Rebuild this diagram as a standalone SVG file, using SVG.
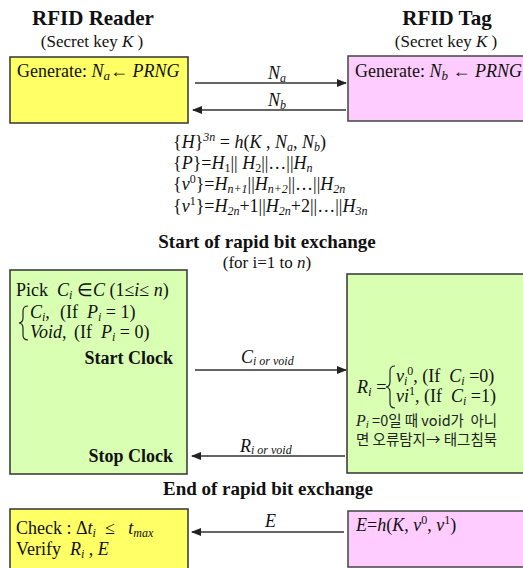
<svg xmlns="http://www.w3.org/2000/svg" width="523" height="568" viewBox="0 0 523 568" xml:space="preserve">
<style>
text{font-family:"Liberation Serif","Times New Roman",serif;fill:#111;white-space:pre;}
.h{font-weight:bold;font-size:21px;text-anchor:middle;}
.sub{font-size:17px;text-anchor:middle;}
.b{font-weight:bold;font-size:19px;text-anchor:middle;}
.t{font-size:18px;}
.f{font-size:18px;}
.i{font-style:italic;}
.bc{font-weight:bold;font-size:18px;}
.kr{font-family:"Noto Sans CJK KR","Noto Sans",sans-serif;font-size:14.5px;fill:#222;}
.yel{fill:#FFFF66;stroke:#333;stroke-width:1.5;}
.pink{fill:#FFCCFF;stroke:#444;stroke-width:1.5;}
.grn{fill:#D9FFB3;stroke:#333;stroke-width:1.5;}
.arr{stroke:#333;stroke-width:1.5;fill:none;}
.br{stroke:#222;stroke-width:1.2;fill:none;}
</style>
<defs>
<marker id="ah" markerWidth="10" markerHeight="8" refX="9" refY="4" orient="auto" markerUnits="userSpaceOnUse">
<path d="M0,0 L10,4 L0,8 Z" fill="#222"/>
</marker>
</defs>
<g id="headers">
<text class="h" x="93" y="25">RFID Reader</text>
<text class="sub" x="92" y="47">(Secret key <tspan class="i">K</tspan> )</text>
<text class="h" x="447" y="25">RFID Tag</text>
<text class="sub" x="446" y="47">(Secret key <tspan class="i">K</tspan> )</text>
</g>
<g id="reader-gen">
<rect class="yel" x="10" y="57" width="178" height="66"/>
<text class="t" x="17" y="77">Generate: <tspan class="i">N</tspan><tspan class="i" font-size="13" dy="3">a</tspan><tspan dy="-3">← </tspan><tspan class="i">PRNG</tspan></text>
</g>
<g id="tag-gen">
<rect class="pink" x="348" y="56" width="180" height="65"/>
<text class="t" x="355" y="77">Generate: <tspan class="i">N</tspan><tspan class="i" font-size="13" dy="3">b</tspan><tspan dy="-3"> ← </tspan><tspan class="i">PRNG</tspan></text>
</g>
<g id="formulas">
<text class="f" x="173" y="148">{<tspan class="i">H</tspan>}<tspan class="i" font-size="12" dy="-7">3n</tspan><tspan dy="7"> = </tspan><tspan class="i">h</tspan>(<tspan class="i">K</tspan> , <tspan class="i">N</tspan><tspan class="i" font-size="12" dy="3">a</tspan><tspan dy="-3">, </tspan><tspan class="i">N</tspan><tspan class="i" font-size="12" dy="3">b</tspan><tspan dy="-3">)</tspan></text>
<text class="f" x="173" y="169">{<tspan class="i">P</tspan>}=<tspan class="i">H</tspan><tspan font-size="12" dy="3">1</tspan><tspan dy="-3">|| </tspan><tspan class="i">H</tspan><tspan font-size="12" dy="3">2</tspan><tspan dy="-3">||…||</tspan><tspan class="i">H</tspan><tspan class="i" font-size="12" dy="3">n</tspan></text>
<text class="f" x="173" y="190">{<tspan class="i">v</tspan><tspan font-size="12" dy="-7">0</tspan><tspan dy="7">}=</tspan><tspan class="i">H</tspan><tspan class="i" font-size="12" dy="3">n+1</tspan><tspan dy="-3">||</tspan><tspan class="i">H</tspan><tspan class="i" font-size="12" dy="3">n+2</tspan><tspan dy="-3">||…||</tspan><tspan class="i">H</tspan><tspan class="i" font-size="12" dy="3">2n</tspan></text>
<text class="f" x="173" y="212">{<tspan class="i">v</tspan><tspan font-size="12" dy="-7">1</tspan><tspan dy="7">}=</tspan><tspan class="i">H</tspan><tspan class="i" font-size="12" dy="3">2n</tspan><tspan dy="-3">+1||</tspan><tspan class="i">H</tspan><tspan class="i" font-size="12" dy="3">2n</tspan><tspan dy="-3">+2||…||</tspan><tspan class="i">H</tspan><tspan class="i" font-size="12" dy="3">3n</tspan></text>
</g>
<g id="start-title">
<text class="b" x="267" y="248">Start of rapid bit exchange</text>
<text class="sub" x="267" y="268">(for i=1 to <tspan class="i">n</tspan>)</text>
</g>
<g id="reader-exchange">
<rect class="grn" x="10" y="270" width="177" height="204"/>
<text class="t" x="16" y="296">Pick  <tspan class="i">C</tspan><tspan class="i" font-size="12" dy="3">i</tspan><tspan dy="-3"> ∈</tspan><tspan class="i">C</tspan> (1≤<tspan class="i">i</tspan>≤ <tspan class="i">n</tspan>)</text>
<path class="br" d="M28,306 Q23,306 23,311 L23,318 Q23,322.5 19,323 Q23,323.5 23,328 L23,335 Q23,340 28,340"/>
<text class="t" x="30" y="318"><tspan class="i">C</tspan><tspan class="i" font-size="12" dy="3">i</tspan><tspan dy="-3">,</tspan></text>
<text class="t" x="60" y="318">(If  <tspan class="i">P</tspan><tspan class="i" font-size="12" dy="3">i</tspan><tspan dy="-3"> = 1)</tspan></text>
<text class="t" x="30" y="338"><tspan class="i">Void</tspan>,</text>
<text class="t" x="74" y="338">(If  <tspan class="i">P</tspan><tspan class="i" font-size="12" dy="3">i</tspan><tspan dy="-3"> = 0)</tspan></text>
<text class="bc" x="173" y="364" text-anchor="end">Start Clock</text>
<text class="bc" x="173" y="462" text-anchor="end">Stop Clock</text>
</g>
<g id="tag-exchange">
<rect class="grn" x="347" y="274" width="180" height="199"/>
<text class="t" x="357" y="393"><tspan class="i">R</tspan><tspan class="i" font-size="13" dy="3">i</tspan><tspan dy="-3"> =</tspan></text>
<path class="br" d="M395,366 Q390,366 390,371 L390,382 Q390,386.5 386,387 Q390,387.5 390,392 L390,403 Q390,408 395,408"/>
<text class="t" x="396" y="382"><tspan class="i">v</tspan><tspan class="i" font-size="12" dy="3">i</tspan><tspan font-size="12" dy="-10">0</tspan><tspan dy="7">, (If  </tspan><tspan class="i">C</tspan><tspan class="i" font-size="12" dy="3">i</tspan><tspan dy="-3"> =0)</tspan></text>
<text class="t" x="396" y="402"><tspan class="i">vi</tspan><tspan font-size="12" dy="-7">1</tspan><tspan dy="7">, (If  </tspan><tspan class="i">C</tspan><tspan class="i" font-size="12" dy="3">i</tspan><tspan dy="-3"> =1)</tspan></text>
<text class="kr" x="356" y="426"><tspan font-family="Liberation Serif" font-style="italic" font-size="16">P</tspan><tspan font-family="Liberation Serif" font-style="italic" font-size="11" dy="2">i</tspan><tspan dy="-2"> =0일 때 void가  아니</tspan></text>
<text class="kr" x="356" y="445">면 오류탐지→ 태그침묵</text>
</g>
<g id="end-title">
<text class="b" x="268" y="495">End of rapid bit exchange</text>
</g>
<g id="reader-verify">
<rect class="yel" x="10" y="509" width="178" height="66"/>
<text class="t" x="16" y="534">Check : Δ<tspan class="i">t</tspan><tspan class="i" font-size="12" dy="3">i</tspan><tspan dy="-3">  ≤   </tspan><tspan class="i">t</tspan><tspan class="i" font-size="12" dy="3">max</tspan></text>
<text class="t" x="16" y="555">Verify  <tspan class="i">R</tspan><tspan class="i" font-size="12" dy="3">i</tspan><tspan dy="-3"> , </tspan><tspan class="i">E</tspan></text>
</g>
<g id="tag-mac">
<rect class="pink" x="348" y="511" width="180" height="56"/>
<text class="t" x="356" y="531"><tspan class="i">E</tspan>=<tspan class="i">h</tspan>(<tspan class="i">K</tspan>, <tspan class="i">v</tspan><tspan font-size="12" dy="-7">0</tspan><tspan dy="7">, </tspan><tspan class="i">v</tspan><tspan font-size="12" dy="-7">1</tspan><tspan dy="7">)</tspan></text>
</g>
<g id="connectors">
<line class="arr" x1="195" y1="83" x2="346" y2="83" marker-end="url(#ah)"/>
<line class="arr" x1="346" y1="110" x2="193" y2="110" marker-end="url(#ah)"/>
<line class="arr" x1="195" y1="370" x2="346" y2="370" marker-end="url(#ah)"/>
<line class="arr" x1="345" y1="456" x2="192" y2="456" marker-end="url(#ah)"/>
<line class="arr" x1="344" y1="532" x2="192" y2="532" marker-end="url(#ah)"/>
<text class="t i" x="268" y="79">N<tspan font-size="12" dy="3">a</tspan></text>
<text class="t i" x="268" y="106">N<tspan font-size="12" dy="3">b</tspan></text>
<text class="t i" x="241" y="363">C<tspan font-size="12" dy="2">i or void</tspan></text>
<text class="t i" x="240" y="452">R<tspan font-size="12" dy="2">i or void</tspan></text>
<text class="t i" x="265" y="527">E</text>
</g>
</svg>
